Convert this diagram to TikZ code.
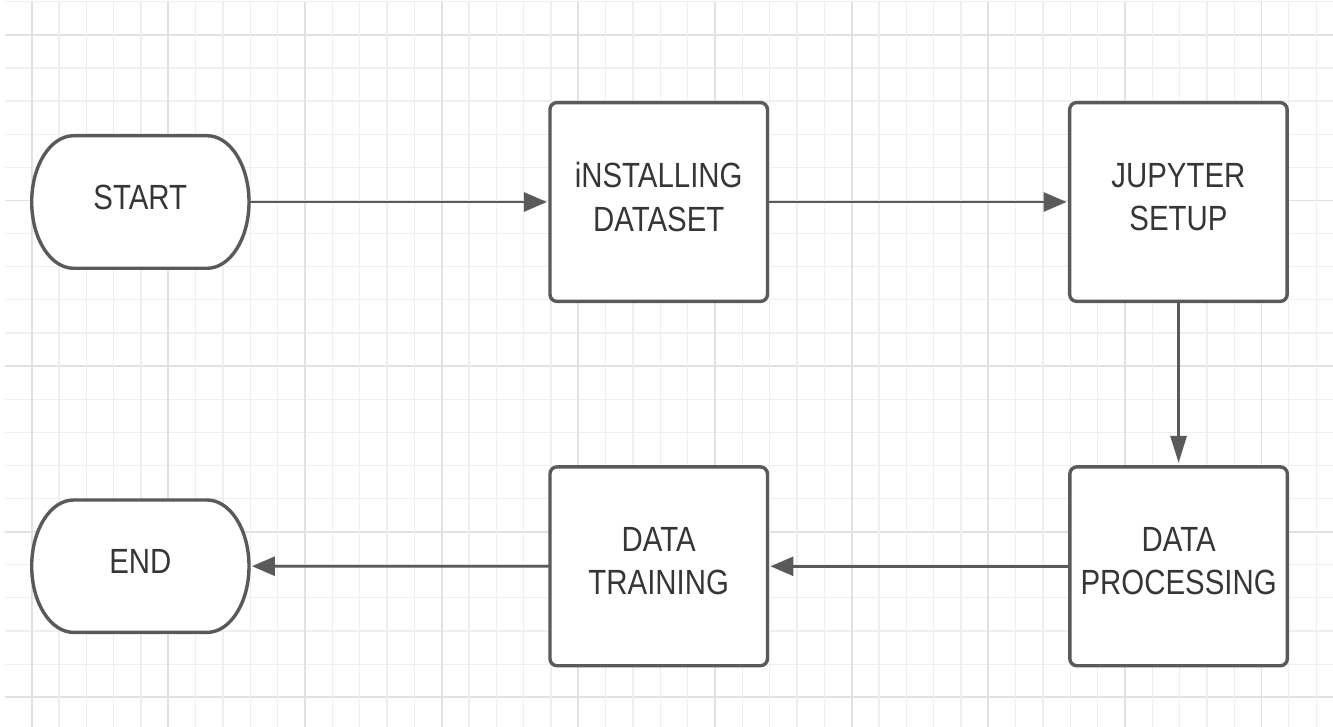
\documentclass[tikz,border=0pt]{standalone}
\usepackage{fontspec}
\newfontfamily\lblfont[FakeStretch=0.84]{Liberation Sans}
\usetikzlibrary{arrows.meta}
\definecolor{gridminor}{HTML}{EFEFEF}
\definecolor{gridmajor}{HTML}{E1E1E1}
\definecolor{stroke}{HTML}{5A5A5A}
\definecolor{txt}{HTML}{363636}
\tikzset{
  gminor/.style={draw=gridminor, line width=1.2pt},
  gmajor/.style={draw=gridmajor, line width=1.8pt},
  boxshape/.style={draw=stroke, fill=white, line width=3.4pt, rounded corners=7pt,
     minimum width=217.5pt, minimum height=198.8pt, inner sep=0pt, outer sep=0pt},
  termshape/.style={draw=none, minimum width=217.3pt, minimum height=132.6pt, inner sep=0pt, outer sep=0pt},
  termline/.style={draw=stroke, fill=white, line width=3.4pt},
  lbl/.style={font=\lblfont\fontsize{35}{43.5}\selectfont, text=txt, align=center, yshift=5pt},
  flowh/.style={draw=stroke, line width=2.8pt, -{Triangle[length=23pt, width=19pt]}, shorten >=3pt},
  flowv/.style={draw=stroke, line width=2.8pt, -{Triangle[length=27pt, width=16pt]}, shorten >=4pt},
}
\begin{document}
\begin{tikzpicture}[x=1pt, y=-1pt]
\useasboundingbox (0,0) rectangle (1333,727);
\fill[white] (0,0) rectangle (1333,727);
% grid
\foreach \k in {0,...,21} {
  \pgfmathsetmacro\yy{1.7+33.12*\k}
  \pgfmathtruncatemacro\mm{mod(\k,5)}
  \ifnum\mm=1 \draw[gmajor] (5,\yy) -- (1333,\yy); \else \draw[gminor] (5,\yy) -- (1333,\yy); \fi
}
\foreach \k in {0,...,47} {
  \pgfmathsetmacro\xx{31.7+27.33*\k}
  \pgfmathtruncatemacro\mm{mod(\k,5)}
  \ifnum\mm=0 \draw[gmajor] (\xx,1.7) -- (\xx,727); \else \draw[gminor] (\xx,1.7) -- (\xx,727); \fi
}
% terminators
\node[termshape] (start) at (140.3,202) {};
\draw[termline] (73.7,135.7) -- (207,135.7)
  .. controls (230.2,135.7) and (249,165.3) .. (249,202)
  .. controls (249,238.7) and (230.2,268.3) .. (207,268.3)
  -- (73.7,268.3)
  .. controls (50.5,268.3) and (31.7,238.7) .. (31.7,202)
  .. controls (31.7,165.3) and (50.5,135.7) .. cycle;
\node[lbl] at (start.center) {START};
\node[termshape] (end) at (140.3,566.2) {};
\draw[termline] (73.7,500) -- (207,500)
  .. controls (230.2,500) and (249,529.6) .. (249,566.2)
  .. controls (249,602.8) and (230.2,632.4) .. (207,632.4)
  -- (73.7,632.4)
  .. controls (50.5,632.4) and (31.7,602.8) .. (31.7,566.2)
  .. controls (31.7,529.6) and (50.5,500) .. cycle;
\node[lbl] at (end.center) {END};
% process boxes
\node[boxshape, label={[lbl]center:iNSTALLING\\DATASET}] (inst) at (658.7,202) {};
\node[boxshape, label={[lbl]center:JUPYTER\\SETUP}] (jup) at (1178.4,202) {};
\node[boxshape, label={[lbl]center:DATA\\PROCESSING}] (proc) at (1178.6,566.3) {};
\node[boxshape, label={[lbl]center:DATA\\TRAINING}] (train) at (658.7,566.3) {};
% connectors
\draw[flowh] (start.east) -- (inst.west);
\draw[flowh] (inst.east) -- (jup.west);
\draw[flowv] (jup.south) -- (proc.north);
\draw[flowh] (proc.west) -- (train.east);
\draw[flowh] (train.west) -- (end.east);
\end{tikzpicture}
\end{document}
